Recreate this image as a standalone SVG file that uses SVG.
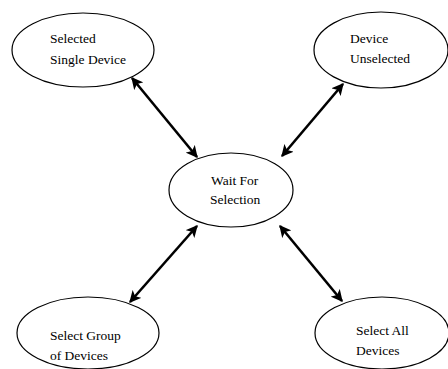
<svg xmlns="http://www.w3.org/2000/svg" width="448" height="369" viewBox="0 0 448 369">
<defs>
<style>
.node ellipse{fill:#fff;stroke:#000;stroke-width:1.2}
.node text{font-family:'Liberation Serif','DejaVu Serif',serif;font-size:13.5px;fill:#000}
.edge{stroke:#000;stroke-width:2.6;fill:none;marker-start:url(#ah);marker-end:url(#ah)}
</style>
<marker id="ah" viewBox="0 0 10 10" refX="9" refY="5" markerWidth="4.6" markerHeight="4.6" orient="auto-start-reverse" markerUnits="strokeWidth">
<path d="M0,0 L10,5 L0,10 L2.5,5 Z" fill="#000"/>
</marker>
</defs>
<rect width="448" height="369" fill="#fff"/>
<g id="connectors">
<line class="edge" x1="132" y1="78" x2="197" y2="157"/>
<line class="edge" x1="343" y1="84" x2="282" y2="156"/>
<line class="edge" x1="197" y1="226" x2="130" y2="302"/>
<line class="edge" x1="280" y1="226" x2="342" y2="301"/>
</g>
<g id="selected-single" class="node">
<ellipse cx="83" cy="50" rx="71" ry="37"/>
<text x="50" y="43" font-family="Liberation Serif, DejaVu Serif, serif">Selected</text>
<text x="50" y="64" font-family="Liberation Serif, DejaVu Serif, serif">Single Device</text>
</g>
<g id="device-unselected" class="node">
<ellipse cx="381" cy="50" rx="67" ry="38"/>
<text x="350" y="43" font-family="Liberation Serif, DejaVu Serif, serif">Device</text>
<text x="350" y="63" font-family="Liberation Serif, DejaVu Serif, serif">Unselected</text>
</g>
<g id="wait" class="node">
<ellipse cx="231" cy="190" rx="62" ry="37"/>
<text x="211" y="185" font-family="Liberation Serif, DejaVu Serif, serif">Wait For</text>
<text x="210" y="204" font-family="Liberation Serif, DejaVu Serif, serif">Selection</text>
</g>
<g id="select-group" class="node">
<ellipse cx="88" cy="333" rx="71" ry="36"/>
<text x="50" y="340" font-family="Liberation Serif, DejaVu Serif, serif">Select Group</text>
<text x="50" y="360" font-family="Liberation Serif, DejaVu Serif, serif">of Devices</text>
</g>
<g id="select-all" class="node">
<ellipse cx="382" cy="333" rx="67" ry="36"/>
<text x="356" y="335" font-family="Liberation Serif, DejaVu Serif, serif">Select All</text>
<text x="356" y="355" font-family="Liberation Serif, DejaVu Serif, serif">Devices</text>
</g>
</svg>
